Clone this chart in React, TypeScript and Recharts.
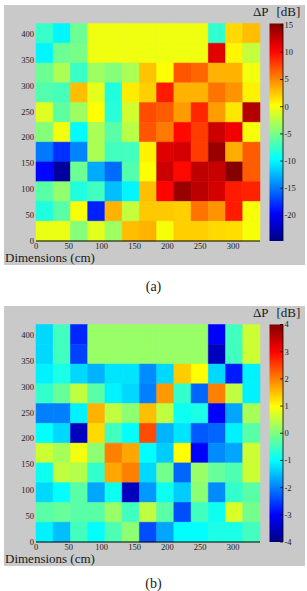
import React from 'react';
import { ScatterChart, Scatter, XAxis, YAxis, ReferenceArea } from 'recharts';

// ---------- data ----------
const xTicks = [0, 50, 100, 150, 200, 250, 300];
const yTicks = [0, 50, 100, 150, 200, 250, 300, 350, 400];
const X_MAX = 341;
const Y_MAX = 420;
const NCOLS = 13;
const NROWS = 11;

const cbTicksA = [15, 10, 5, 0, -5, -10, -15, -20];
const cbRangeA = [-24.7, 15.3];
const cbTicksB = [4, 3, 2, 1, 0, -1, -2, -3, -4];
const cbRangeB = [-4, 4];

// rows listed top (y≈400) to bottom (y≈0), 13 columns each
const valuesA = [
  [-7.5, -10, -5.5, -0.3, -0.3, -0.3, -0.3, -0.3, -0.3, -0.3, -7.8, 1.8, 2.8],
  [-10, -5.5, -5, -0.3, -0.3, -0.3, -0.3, -0.3, -0.3, -0.3, 11.5, 0.6, -2],
  [-5.5, -3, -7.5, -3.5, -4.5, -3, 2.6, 0.3, 7, 6.3, 3.3, 3.3, -0.2],
  [-6.5, -7, 2.8, -0.7, -8.5, 1, 2.2, 9.3, 3.3, 3.3, 5.8, 4.5, 0.8],
  [-1, -6, -3.5, 0.3, -8.2, -1.5, 7.3, 6.7, 4.2, 8.8, 4.2, 1.2, 13.2],
  [-4.5, -0.2, -9.8, -3, -6.2, -2.5, 7, 5.5, 10, 8, 12.3, 10.8, 0],
  [-15, -17.8, -14.5, -3, -7.2, -7.2, 0.8, 11.5, 12, 8, 14.3, 3.5, 6.7],
  [-19.5, -23.5, -5.5, -13, -15.5, -6.5, 0.3, 12.3, 10, 12.8, 12.5, 15, 6.7],
  [-6.2, -4, -8.5, -7.2, -12.2, -10, 2.8, 10.2, 14.3, 13, 12, 9.3, 9],
  [-8.5, -6.2, 0, -18.5, 3.3, -2, 2.4, 2.4, 2.2, 5.8, 4.5, 9.3, 0],
  [-0.5, -0.5, -4.5, -0.8, -3.5, 2.8, 3.3, 0, 2.2, 2.2, 1.8, 1.6, 0],
];

const valuesB = [
  [-1.3, -0.5, -2.7, 0.2, 0.2, 0.2, 0.2, 0.2, 0.2, 0.2, -3, -0.5, 0.6],
  [-1.3, -0.5, -2.5, 0.2, 0.2, 0.2, 0.2, 0.2, 0.2, 0.2, -3.5, -0.5, 0.6],
  [-1.1, -0.8, -1.3, -1.6, -1.2, -1.2, -1.9, -1.3, 1.4, 1, -1.3, -2.8, -1.1],
  [-0.6, -0.2, 0.5, -0.3, -1.1, -1.3, -2, 1.8, -0.6, -2.2, 2, 0.5, -1.1],
  [-2, -2, -1.1, 1.6, 0.5, 0.1, 1.5, 0.5, -0.9, -0.8, -3, -1.7, 0.3],
  [-1, -1.3, -3.5, 1.3, -0.5, -1, 2.4, -1.6, -1.2, -2.3, -2.2, -1.1, -0.3],
  [0.6, 0.3, 0.9, 0.1, 2, 1.7, -1, -1.4, 1, -3, -1.9, -1.7, 0.6],
  [-0.9, 0.5, 0.4, -0.6, 1.7, 2, -1.3, -0.1, -2.2, 0.2, -0.2, -0.4, 0.6],
  [-1.3, -1, -0.3, -1.7, -0.9, -3.5, -1.8, -0.9, -1.4, 0.1, -1.9, -0.6, -0.3],
  [-0.3, -0.2, -0.3, -0.3, 0.2, -0.5, 0.5, -0.3, -2.4, -0.5, -0.9, 0.7, -0.1],
  [-1.1, -1.5, -0.5, -1, -0.4, 0.1, -2.4, -1.7, -1, -1, -0.8, -0.8, -0.5],
];

// ---------- helpers ----------
const GREY = '#c9c9c9';
const SERIF = "'Liberation Serif', 'DejaVu Serif', serif";

const clamp = (v: number) => Math.max(0, Math.min(1, v));
function jet(v: number, min: number, max: number): string {
  const f = clamp((v - min) / (max - min));
  const r = clamp(1.5 - Math.abs(4 * f - 3));
  const g = clamp(1.5 - Math.abs(4 * f - 2));
  const b = clamp(1.5 - Math.abs(4 * f - 1));
  const h = (x: number) => Math.round(x * 255).toString(16).padStart(2, '0');
  return `#${h(r)}${h(g)}${h(b)}`;
}

const axisTick = { fontFamily: SERIF, fontSize: 8.5, fill: '#1a1a1a' };

const CbTick = (props: any) => {
  const { x, y, payload } = props;
  return (
    <g>
      <line x1={x - 3} x2={x} y1={y} y2={y} stroke="#000" strokeWidth={0.8} />
      <text x={x + 1.5} y={y} dy="0.35em" fontSize={8.5} fontFamily={SERIF} fill="#1a1a1a">
        {payload.value}
      </text>
    </g>
  );
};

function Panel(props: {
  top: number;
  values: number[][];
  range: number[];
  cbTicks: number[];
  tag: string;
  tagY: number;
  gid: string;
}) {
  const { top, values, range, cbTicks, tag, tagY, gid } = props;
  const cw = X_MAX / NCOLS;
  const rh = Y_MAX / NROWS;
  const cells: { x1: number; x2: number; y1: number; y2: number; color: string }[] = [];
  values.forEach((row, r) =>
    row.forEach((v, c) => {
      const j = NROWS - 1 - r;
      cells.push({
        x1: c * cw,
        x2: (c + 1) * cw,
        y1: j * rh,
        y2: (j + 1) * rh,
        color: jet(v, range[0], range[1]),
      });
    })
  );
  const centers = cells.map((c) => ({ x: (c.x1 + c.x2) / 2, y: (c.y1 + c.y2) / 2 }));

  return (
    <div style={{ position: 'absolute', left: 0, top, width: 307, height: 301 }}>
      <div style={{ position: 'absolute', left: 4, top: 5, width: 301, height: 260, background: GREY }} />
      <div style={{ position: 'absolute', left: 0, top: 0 }}>
        <ScatterChart width={270} height={301} margin={{ top: 23.5, right: 10, bottom: 40, left: 6 }}>
          {cells.map((c, i) => (
            <ReferenceArea
              key={i}
              x1={c.x1}
              x2={c.x2}
              y1={c.y1}
              y2={c.y2}
              fill={c.color}
              fillOpacity={1}
              stroke={c.color}
              strokeWidth={0.5}
              ifOverflow="visible"
            />
          ))}
          <Scatter data={centers} isAnimationActive={false} shape={() => <g />} />
          <XAxis
            type="number"
            dataKey="x"
            domain={[0, X_MAX]}
            ticks={xTicks}
            interval={0}
            allowDataOverflow
            tickLine={false}
            tickSize={0}
            axisLine={{ stroke: '#000', strokeWidth: 1 }}
            tick={axisTick}
            tickMargin={2}
            height={20}
          />
          <YAxis
            type="number"
            dataKey="y"
            domain={[0, Y_MAX]}
            ticks={yTicks}
            interval={0}
            allowDataOverflow
            tickLine={false}
            tickSize={0}
            axisLine={false}
            tick={axisTick}
            tickMargin={2}
            width={30}
          />
        </ScatterChart>
      </div>
      <div style={{ position: 'absolute', left: 262, top: 0 }}>
        <ScatterChart width={45} height={301} margin={{ top: 23.5, right: 0, bottom: 60, left: 7.5 }}>
          <ReferenceArea
            x1={0}
            x2={1}
            y1={range[0]}
            y2={range[1]}
            fill={`url(#${gid})`}
            fillOpacity={1}
            stroke="none"
            ifOverflow="visible"
          />
          <Scatter data={[{ x: 0.5, y: 0 }]} isAnimationActive={false} shape={() => <g />} />
          <XAxis type="number" dataKey="x" domain={[0, 1]} hide allowDataOverflow />
          <YAxis
            type="number"
            dataKey="y"
            orientation="right"
            domain={range}
            ticks={cbTicks}
            interval={0}
            allowDataOverflow
            tickSize={0}
            tickMargin={0}
            tickLine={false}
            axisLine={{ stroke: '#000', strokeWidth: 0.8 }}
            tick={<CbTick />}
            width={24}
          />
        </ScatterChart>
      </div>
      <svg
        width={307}
        height={301}
        style={{ position: 'absolute', left: 0, top: 0, pointerEvents: 'none', overflow: 'visible' }}
      >
        <text x={253} y={16} fontSize={13} fontFamily={SERIF} fill="#1a1a1a">
          ΔP
        </text>
        <text x={276.5} y={16} fontSize={13} fontFamily={SERIF} fill="#1a1a1a">
          [dB]
        </text>
        <text x={5} y={261.5} fontSize={13} fontFamily={SERIF} fill="#1a1a1a">
          Dimensions (cm)
        </text>
        <text x={153.5} y={tagY} fontSize={14} fontFamily={SERIF} fill="#1a1a1a" textAnchor="middle">
          {tag}
        </text>
      </svg>
    </div>
  );
}

export default function App() {
  const stops = [
    { o: 0, c: '#000080' },
    { o: 0.125, c: '#0000ff' },
    { o: 0.375, c: '#00ffff' },
    { o: 0.625, c: '#ffff00' },
    { o: 0.875, c: '#ff0000' },
    { o: 1, c: '#800000' },
  ];
  return (
    <div
      style={{
        position: 'absolute',
        left: 0,
        top: 0,
        width: 307,
        height: 591,
        background: '#fff',
        overflow: 'hidden',
      }}
    >
      <svg width={0} height={0} style={{ position: 'absolute' }}>
        <defs>
          {['jetA', 'jetB'].map((id) => (
            <linearGradient key={id} id={id} x1="0" y1="1" x2="0" y2="0">
              {stops.map((s) => (
                <stop key={s.o} offset={s.o} stopColor={s.c} />
              ))}
            </linearGradient>
          ))}
        </defs>
      </svg>
      <Panel top={0} values={valuesA} range={cbRangeA} cbTicks={cbTicksA} tag="(a)" tagY={291} gid="jetA" />
      <Panel top={301} values={valuesB} range={cbRangeB} cbTicks={cbTicksB} tag="(b)" tagY={287} gid="jetB" />
    </div>
  );
}
